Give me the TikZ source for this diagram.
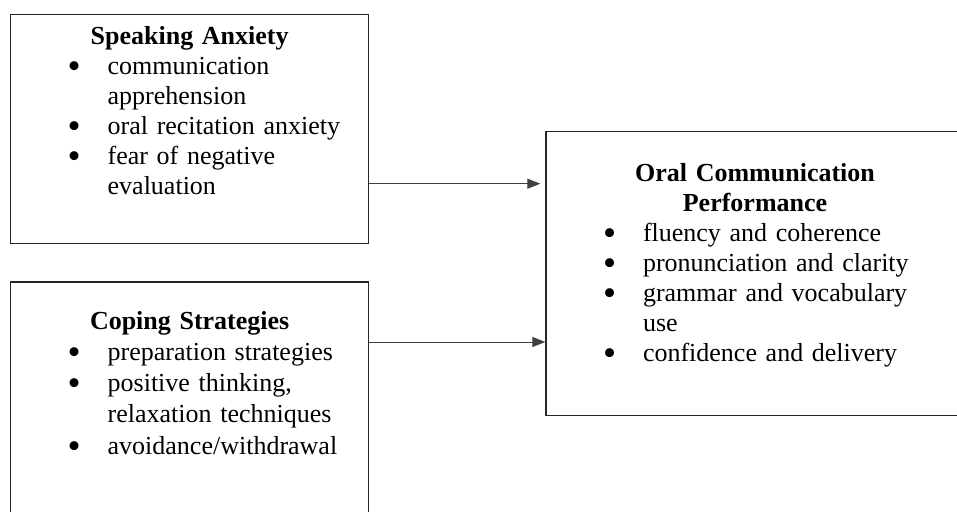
\documentclass[tikz,border=0pt]{standalone}
\usepackage{fontspec}
\setmainfont{Liberation Serif}
\usetikzlibrary{arrows.meta, positioning}
\setlength{\parindent}{0pt}
\newcommand{\bitem}[1]{\par\hspace*{42.75pt}\makebox[30pt][l]{\smash{\raisebox{-3pt}{\fontsize{28}{0}\selectfont\textbullet}}}#1}
\newcommand{\bmore}[1]{\par\hspace*{72.75pt}#1}
\tikzstyle{box} = [
  rectangle,
  minimum width=268.5pt,
  draw=black!85,
  line width=1pt,
  inner sep=0
]
\tikzstyle{boxtext} = [
  text width=268.5pt,
  inner sep=0,
  font=\fontsize{19.5}{22.5}\selectfont
]
\tikzstyle{arrow} = [
  line width=0.75pt,
  draw=black!75,
  -{Triangle[length=9.75pt,width=7.5pt]}
]
\begin{document}
\begin{tikzpicture}
      \useasboundingbox (-7.5pt,10.5pt) rectangle (710.25pt,-372.75pt);
      \node [box, minimum height=171.75pt, anchor=north west] (anxiety) at (0,0) {};
      \node [box, minimum height=180pt, below=27.75pt of anxiety] (coping) {};
      \node [box, minimum width=313.5pt, minimum height=213pt, anchor=north west] (performance) at ([xshift=132pt,yshift=-87.75pt]anxiety.north east) {};

      \node [boxtext, below=9.2pt of anxiety.north] (anxiety text) {{\centering\bfseries Speaking Anxiety\par}
        \bitem{communication}
        \bmore{apprehension}
        \bitem{oral recitation anxiety}
        \bitem{fear of negative}
        \bmore{evaluation}};
      \node [boxtext, font=\fontsize{19.5}{23.4}\selectfont, below=22.2pt of coping.north] (coping text) {{\centering\bfseries Coping Strategies\par}
        \bitem{preparation strategies}
        \bitem{positive thinking,}
        \bmore{relaxation techniques}
        \bitem{avoidance/withdrawal}};
      \node [boxtext, text width=313.5pt, below=24.5pt of performance.north] (performance text) {{\centering\bfseries Oral Communication\\Performance\par}
        \bitem{fluency and coherence}
        \bitem{pronunciation and clarity}
        \bitem{grammar and vocabulary}
        \bmore{use}
        \bitem{confidence and delivery}};

      \coordinate (anxiety out) at ([yshift=-40.9pt]anxiety.east);
      \coordinate (coping out) at ([yshift=-45.5pt]coping.north east);
      \draw [arrow, shorten >=3.75pt] (anxiety out) -- (anxiety out -| performance.west);
      \draw [arrow] (coping out) -- (coping out -| performance.west);
\end{tikzpicture}
\end{document}
